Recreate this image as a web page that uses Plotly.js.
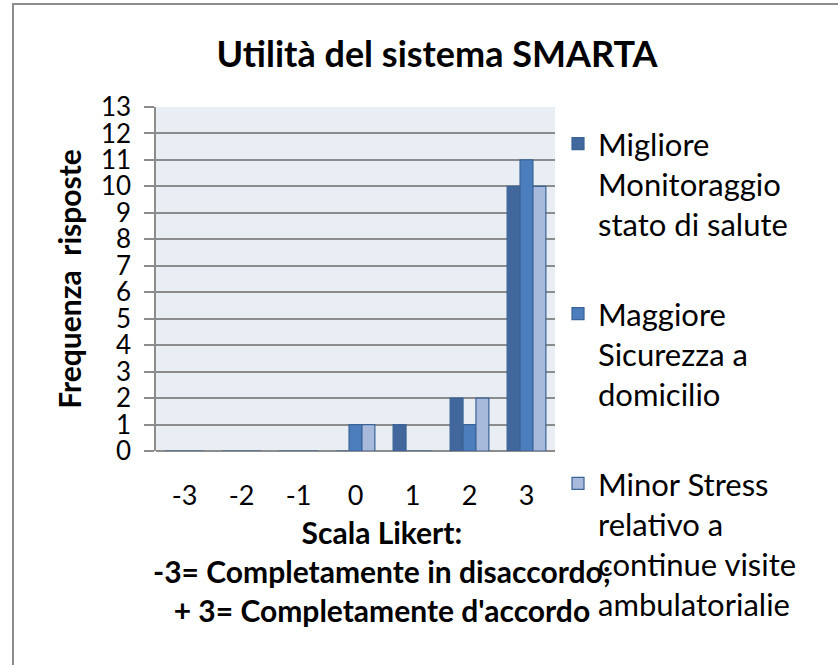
<!DOCTYPE html>
<html>
<head>
<meta charset="utf-8">
<script src="https://cdn.plot.ly/plotly-3.0.1.min.js"></script>
<style>
  html, body { margin: 0; padding: 0; background: #fff; }
  #wrap { position: relative; width: 838px; height: 665px; }
  #chart { position: absolute; left: 0; top: 0; width: 838px; height: 665px; }
  #frame { position: absolute; left: 12px; top: 3px; right: 0; bottom: 0;
           border-left: 2px solid #8c8c8c; border-top: 2px solid #8c8c8c; pointer-events: none; }
</style>
</head>
<body>
<div id="wrap">
  <div id="chart"></div>
  <div id="frame"></div>
</div>
<script>
const categories = ["-3", "-2", "-1", "0", "1", "2", "3"];
const seriesNames = [
  "Migliore<br>Monitoraggio<br>stato di salute",
  "Maggiore<br>Sicurezza a<br>domicilio",
  "Minor Stress<br>relativo a<br>continue visite<br>ambulatorialie"
];
const monitoraggio = [0, 0, 0, 0, 1, 2, 10];
const sicurezza    = [0, 0, 0, 1, 0, 1, 11];
const stress       = [0, 0, 0, 1, 0, 2, 10];
const yTicks = [0,1,2,3,4,5,6,7,8,9,10,11,12,13];

const colors = ["#41679c", "#4c7ebe", "#a8badb"];
const values = [monitoraggio, sicurezza, stress];

const FONT = "Lato, 'Open Sans', sans-serif";

const traces = values.map((v, i) => ({
  type: "bar",
  name: seriesNames[i],
  x: categories,
  y: v,
  legendgroup: "g" + i,
  marker: { color: colors[i], line: { color: "#3a6396", width: 1.2 } },
  hoverinfo: "x+y+name"
}));

const layout = {
  width: 838, height: 665,
  margin: { l: 156, r: 283, t: 107, b: 214 },
  paper_bgcolor: "rgba(0,0,0,0)",
  plot_bgcolor: "#e9edf4",
  font: { family: FONT, color: "#000" },
  title: {
    text: "<b>Utilità del sistema SMARTA</b>",
    font: { family: FONT, size: 36, color: "#000" },
    x: 437 / 838, xanchor: "center", xref: "container",
    y: 1 - 54 / 665, yanchor: "middle", yref: "container"
  },
  barmode: "group",
  bargap: 0.32,
  bargroupgap: 0,
  xaxis: {
    type: "category",
    categoryorder: "array",
    categoryarray: categories,
    showgrid: false,
    zeroline: false,
    showline: false,
    ticks: "",
    ticklabelstandoff: 26,
    tickfont: { family: FONT, size: 27, color: "#000" }
  },
  yaxis: {
    range: [0, 13],
    tickvals: yTicks,
    ticktext: yTicks.map(String),
    showgrid: true,
    gridcolor: "#8c8c8c",
    gridwidth: 1.5,
    zeroline: true,
    zerolinecolor: "#8c8c8c",
    zerolinewidth: 2,
    showline: true,
    linecolor: "#8c8c8c",
    linewidth: 1.5,
    ticks: "outside",
    ticklen: 10,
    tickcolor: "#8c8c8c",
    tickwidth: 1.5,
    ticklabelstandoff: 8,
    tickfont: { family: FONT, size: 26, color: "#000" },
    title: {
      text: "<b>Frequenza  risposte</b>",
      font: { family: FONT, size: 30, color: "#000" },
      standoff: 10
    }
  },
  legend: {
    x: (558 - 156) / 399, xanchor: "left",
    y: (451 - 117) / 344, yanchor: "top",
    bgcolor: "rgba(0,0,0,0)",
    font: { family: FONT, size: 31, color: "#000" },
    tracegroupgap: 46,
    traceorder: "grouped",
    valign: "top",
    maxheight: 640
  },
  annotations: [{
    text: "<b>Scala Likert:<br>-3= Completamente in disaccordo;<br>+ 3= Completamente d'accordo</b>",
    xref: "paper", yref: "paper",
    x: (382 - 156) / 399, y: -(571 - 451) / 344,
    xanchor: "center", yanchor: "middle",
    showarrow: false,
    align: "center",
    font: { family: FONT, size: 30, color: "#000" }
  }],
  showlegend: true
};

Plotly.newPlot("chart", traces, layout, { displayModeBar: false, staticPlot: false });
</script>
</body>
</html>
